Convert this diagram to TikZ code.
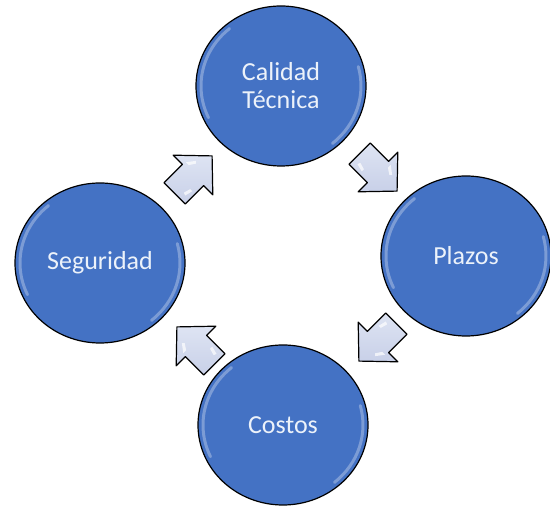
\documentclass[tikz,border=0pt]{standalone}
\usepackage{fontspec}
\setmainfont{Carlito}
\usetikzlibrary{shapes.geometric}
\definecolor{discblue}{RGB}{68,114,196}
\definecolor{disctext}{RGB}{236,242,250}
\definecolor{arrowfill}{RGB}{200,208,232}
\definecolor{arrowlight}{RGB}{222,228,243}
\begin{document}
\begin{tikzpicture}[x=1pt,y=1pt,
  disc/.style={ellipse, draw=black, line width=1.2pt, fill=discblue,
    minimum width=170pt, minimum height=160pt, inner sep=0pt,
    text=disctext, align=center,
    font=\fontsize{26}{28}\selectfont},
  hl/.style={draw=white, opacity=0.3, line width=3pt, line cap=round},
  blockarrow/.style={draw=black, line width=1.2pt, line join=round,
    top color=arrowlight, bottom color=arrowfill}
]
\useasboundingbox (0,0) rectangle (550,506);

\node[disc] (ct) at (281,420) {Calidad\\Técnica};
\node[disc] (pl) at (466,250) {Plazos};
\node[disc] (co) at (283,81) {Costos};
\node[disc] (se) at (100,243) {Seguridad};

\foreach \n in {ct,pl,co,se}{
  \draw[hl] ([shift={(130:80 and 75)}]\n.center) arc[start angle=130, end angle=205, x radius=80, y radius=75];
  \draw[hl] ([shift={(-50:80 and 75)}]\n.center) arc[start angle=-50, end angle=15, x radius=80, y radius=75];
}

\foreach \cx/\cy/\ang in {193/331/45, 378/334/-45, 378/164/-135, 196/160/135}{
  \begin{scope}[shift={(\cx,\cy)}, rotate=\ang]
    \path[blockarrow] (-26,-15) -- (0,-15) -- (0,-28) -- (27,0) -- (0,28) -- (0,15) -- (-26,15) -- cycle;
    \fill[white, opacity=0.7] (4,14) -- (12,8) -- (10,6) -- (4,10) -- cycle;
    \fill[white, opacity=0.7] (-20,-9) -- (-12,-11) -- (-12,-8) -- (-19,-6) -- cycle;
  \end{scope}
}
\end{tikzpicture}
\end{document}
